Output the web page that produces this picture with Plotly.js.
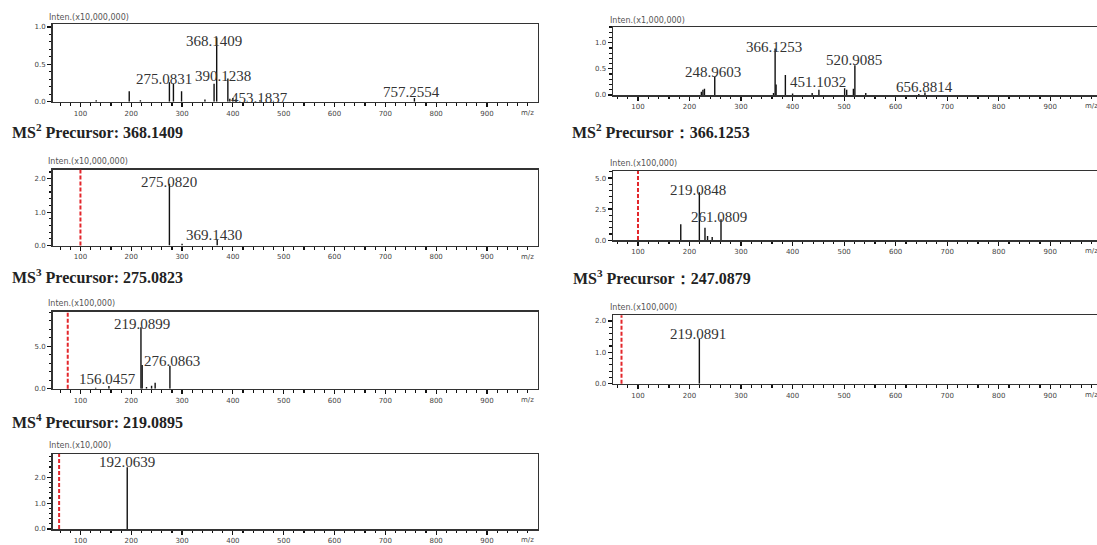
<!DOCTYPE html>
<html><head><meta charset="utf-8">
<script src="https://cdn.plot.ly/plotly-3.0.1.min.js"></script>
<style>
html,body{margin:0;padding:0;overflow:hidden;background:#fff;width:1097px;height:545px}
#chart{width:1102px;height:545px}
</style>
</head><body><div id="chart"></div>
<script>
// ---------- DATA (m/z, relative intensity in the panel's own units) ----------
// Panel A: full MS, Inten.(x10,000,000)
const msA_mz  = [131, 196, 218, 275.0831, 283, 299, 345, 363, 368.1409, 390.1238, 394, 400, 405, 453.1837, 757.2554];
const msA_int = [0.02, 0.14, 0.02, 0.26, 0.24, 0.14, 0.03, 0.24, 0.86, 0.31, 0.04, 0.05, 0.03, 0.02, 0.05];
const msA_lab = [368.1409, 275.0831, 390.1238, 453.1837, 757.2554];
// Panel B: full MS, Inten.(x1,000,000)
const msB_mz  = [223, 226, 229, 248.9603, 363, 366.1253, 368, 386, 400, 438, 451.1032, 501, 505, 518, 520.9085, 542, 645, 656.8814];
const msB_int = [0.06, 0.1, 0.12, 0.35, 0.04, 0.89, 0.2, 0.38, 0.03, 0.04, 0.1, 0.13, 0.1, 0.12, 0.57, 0.04, 0.02, 0.05];
const msB_lab = [248.9603, 366.1253, 451.1032, 520.9085, 656.8814];
// Panel C: MS2 of 368.1409, Inten.(x10,000,000)
const msC_mz  = [275.0820, 300, 369.1430];
const msC_int = [1.85, 0.05, 0.18];
const msC_lab = [275.0820, 369.1430];
// Panel D: MS2 of 366.1253, Inten.(x100,000)
const msD_mz  = [183, 219.0848, 230, 235, 244, 261.0809];
const msD_int = [1.27, 3.86, 1.0, 0.33, 0.25, 1.68];
const msD_lab = [219.0848, 261.0809];
// Panel E: MS3 of 275.0823, Inten.(x100,000)
const msE_mz  = [130, 156.0457, 219.0899, 221.5, 230, 240, 247, 276.0863];
const msE_int = [0.1, 0.32, 7.26, 2.8, 0.2, 0.35, 0.7, 2.7];
const msE_lab = [219.0899, 276.0863, 156.0457];
// Panel F: MS3 of 247.0879, Inten.(x100,000)
const msF_mz  = [219.0891];
const msF_int = [1.43];
const msF_lab = [219.0891];
// Panel G: MS4 of 219.0895, Inten.(x10,000)
const msG_mz  = [192.0639];
const msG_int = [2.39];
const msG_lab = [192.0639];

const intenTitles = ['Inten.(x10,000,000)', 'Inten.(x1,000,000)', 'Inten.(x10,000,000)', 'Inten.(x100,000)', 'Inten.(x100,000)', 'Inten.(x100,000)', 'Inten.(x10,000)'];
const markerMz = [null, null, 100, 100, 75, 68, 58];
const captions = ['MS<sup>2</sup> Precursor: 368.1409', 'MS<sup>2</sup> Precursor\uFF1A366.1253', 'MS<sup>3</sup> Precursor: 275.0823', 'MS<sup>3</sup> Precursor\uFF1A247.0879', 'MS<sup>4</sup> Precursor: 219.0895'];
const yTickStep = [0.5, 0.5, 1, 2.5, 5, 1, 1];
const yMinorStep = [0.1, 0.1, 0.2, 0.5, 1, 0.2, 0.2];

// ---------- LAYOUT ----------
const W = 1102, H = 545;
const LX = [52.5, 537.5], RX = [613, 1101.5];
const LR = [45, 999.5], RR = [51.5, 999.5];
const panels = [
  {mz: msA_mz, it: msA_int, lab: msA_lab, off: [[-2.5,-4],[-5.3,3.4],[-4.6,2.4],[0,2],[-2.8,6]], px: LX, py: [24.3,101.7], xr: LR, yr: [0,1.035], ip: [47,17.5]},
  {mz: msB_mz, it: msB_int, lab: msB_lab, off: [[-2.1,4.7],[-0.7,1.7],[-1,7.4],[-0.7,5.4],[0,5.7]], px: RX, py: [27,95], xr: RR, yr: [0,1.3], ip: [608,20]},
  {mz: msC_mz, it: msC_int, lab: msC_lab, off: [[-0.7,1.7],[-2.8,4]], px: LX, py: [169.7,245.5], xr: LR, yr: [0,2.27], ip: [46,161.5]},
  {mz: msD_mz, it: msD_int, lab: msD_lab, off: [[-1,2.4],[-1.8,2.4]], px: RX, py: [171,240.1], xr: RR, yr: [0,5.57], ip: [608,163]},
  {mz: msE_mz, it: msE_int, lab: msE_lab, off: [[0.7,3.4],[2.5,5],[-1,6.7]], px: LX, py: [311.9,388.7], xr: LR, yr: [0,9.06], ip: [46,303.5]},
  {mz: msF_mz, it: msF_int, lab: msF_lab, off: [[-1.8,5]], px: RX, py: [315.3,383.7], xr: RR, yr: [0,2.18], ip: [608,307.5]},
  {mz: msG_mz, it: msG_int, lab: msG_lab, off: [[-0.7,5]], px: LX, py: [454,529], xr: LR, yr: [0,2.9], ip: [47,445]}
];
const capPos = [[10,131],[570,131],[10,276],[571,277],[10,421]];

const tickFont = {family: 'DejaVu Sans', size: 7, color: '#444'};
const traces = [], annotations = [], shapes = [];
const layout = {width: W, height: H, margin: {l:0, r:0, t:0, b:0}, paper_bgcolor: '#fff', plot_bgcolor: '#fff', showlegend: false};

panels.forEach((p, i) => {
  const n = i + 1, sfx = n === 1 ? '' : String(n);
  const xs = [], ys = [];
  p.mz.forEach((m, k) => { xs.push(m, m, null); ys.push(0, p.it[k], null); });
  traces.push({type: 'scatter', mode: 'lines', x: xs, y: ys, xaxis: 'x' + sfx, yaxis: 'y' + sfx,
    line: {color: '#111', width: 1.4}, hoverinfo: 'skip'});
  layout['xaxis' + sfx] = {domain: [p.px[0]/W, p.px[1]/W], range: p.xr, anchor: 'y' + sfx,
    tickmode: 'linear', tick0: 0, dtick: 100, ticks: 'outside', ticklen: 4, tickwidth: 1.2, tickcolor: '#111',
    minor: {tickmode: 'linear', tick0: 0, dtick: 20, ticks: 'outside', ticklen: 2.5, tickcolor: '#111', tickwidth: 1.2},
    showline: true, mirror: true, linecolor: '#333', linewidth: 1.5, showgrid: false, zeroline: false,
    tickfont: tickFont, fixedrange: true};
  layout['yaxis' + sfx] = {domain: [1 - p.py[1]/H, 1 - p.py[0]/H], range: p.yr, anchor: 'x' + sfx,
    tickmode: 'linear', tick0: 0, dtick: yTickStep[i], tickformat: '.1f', ticks: 'outside', ticklen: 4, tickwidth: 1.2, tickcolor: '#111',
    minor: {tickmode: 'linear', tick0: 0, dtick: yMinorStep[i], ticks: 'outside', ticklen: 2.5, tickcolor: '#111', tickwidth: 1.2},
    showline: true, mirror: true, linecolor: '#333', linewidth: 1.5, showgrid: false, zeroline: false,
    tickfont: tickFont, fixedrange: true};
  // peak labels
  p.lab.forEach((m, k) => {
    const idx = p.mz.indexOf(m);
    annotations.push({x: m, y: p.it[idx], xref: 'x' + sfx, yref: 'y' + sfx, text: m.toFixed(4), showarrow: false,
      xanchor: 'center', yanchor: 'middle', xshift: p.off[k][0], yshift: p.off[k][1],
      font: {family: 'Liberation Serif', size: 15, color: '#333'}});
  });
  // m/z axis label
  annotations.push({x: 980, y: 0, xref: 'x' + sfx, yref: 'y' + sfx + ' domain', text: 'm/z', showarrow: false,
    xanchor: 'center', yanchor: 'top', yshift: -5, font: tickFont});
  // intensity title
  annotations.push({x: p.ip[0]/W, y: 1 - p.ip[1]/H, xref: 'paper', yref: 'paper', text: intenTitles[i], showarrow: false,
    xanchor: 'left', yanchor: 'middle', font: {family: 'DejaVu Sans', size: 8, color: '#555'}});
  // precursor marker
  if (markerMz[i] !== null) {
    shapes.push({type: 'line', xref: 'x' + sfx, yref: 'y' + sfx + ' domain', x0: markerMz[i], x1: markerMz[i], y0: 0, y1: 1,
      line: {color: '#e3262b', width: 2, dash: '4px,2px'}});
  }
});

captions.forEach((c, i) => {
  annotations.push({x: capPos[i][0]/W, y: 1 - capPos[i][1]/H, xref: 'paper', yref: 'paper', text: '<b>' + c + '</b>',
    showarrow: false, xanchor: 'left', yanchor: 'middle', font: {family: 'Liberation Serif', size: 16, color: '#222'}});
});

layout.annotations = annotations;
layout.shapes = shapes;
Plotly.newPlot('chart', traces, layout, {staticPlot: true, displayModeBar: false});
</script>
</body></html>
